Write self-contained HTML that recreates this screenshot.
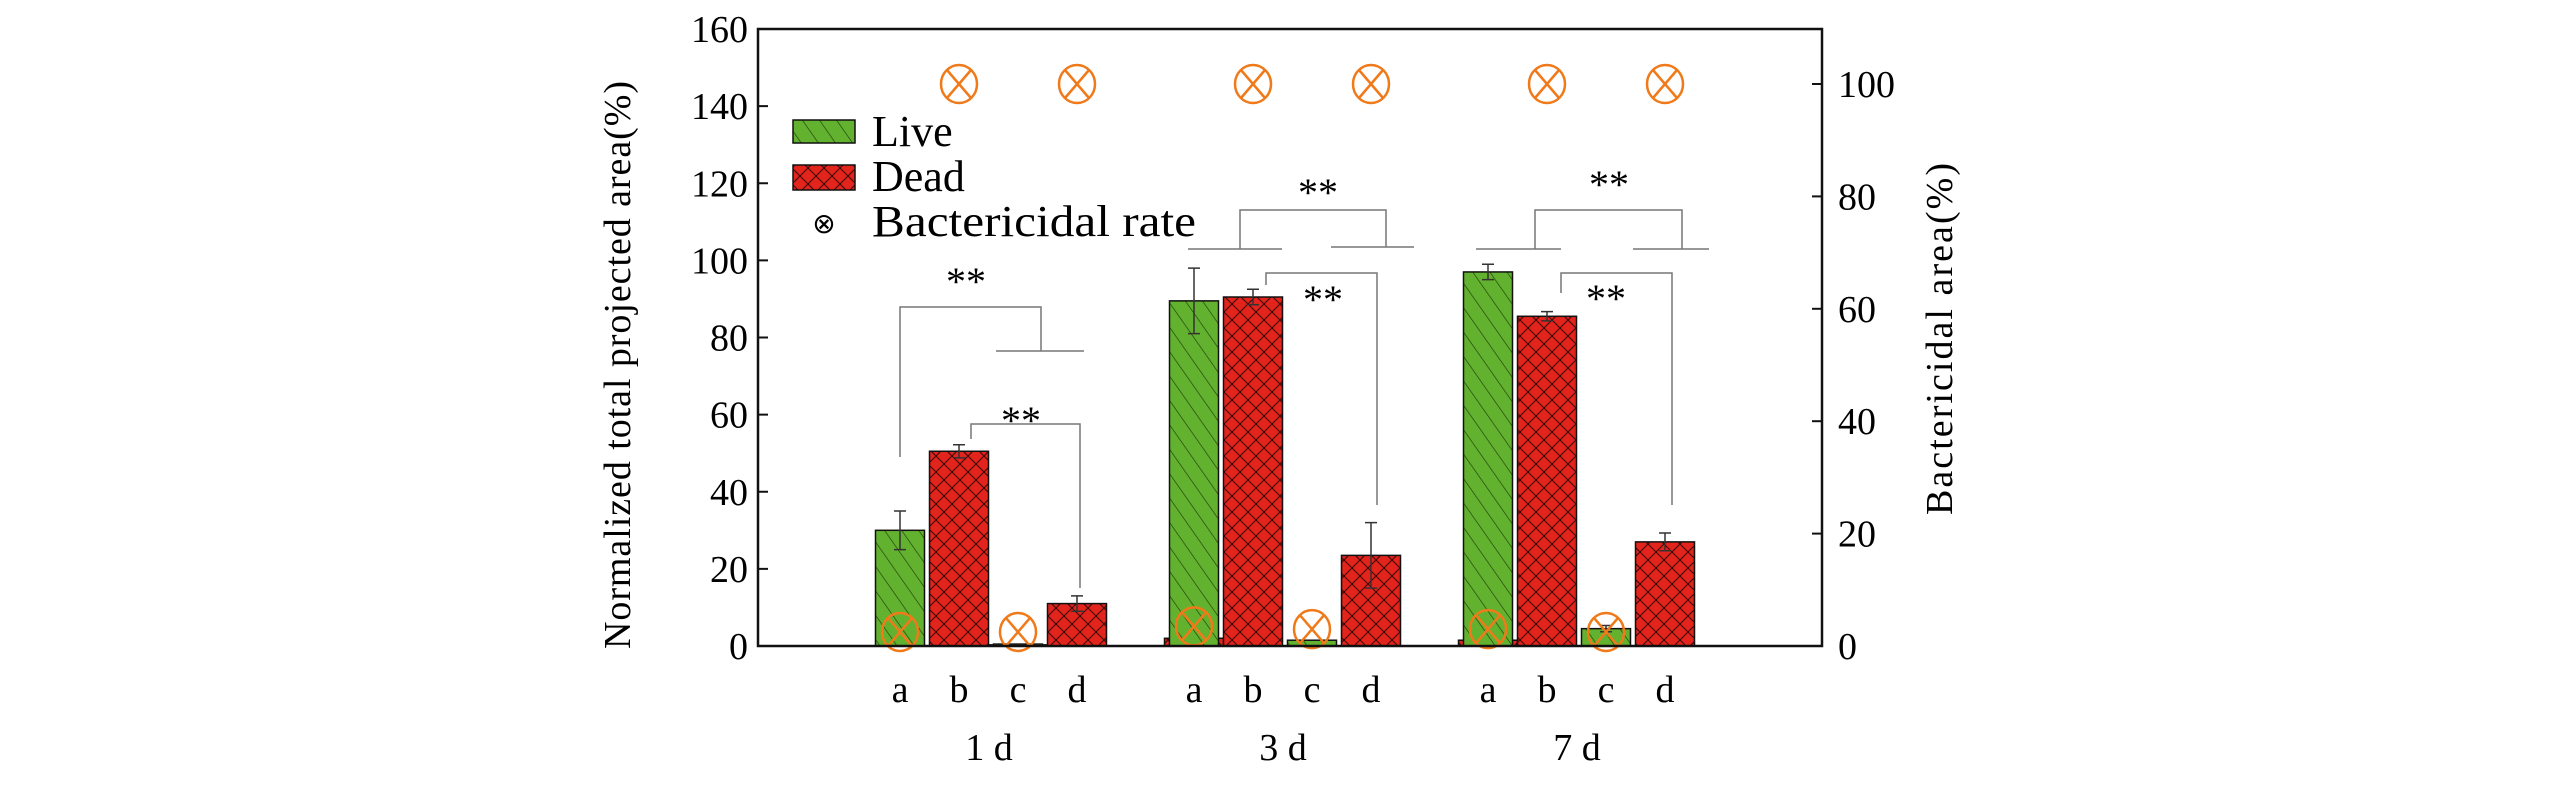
<!DOCTYPE html>
<html><head><meta charset="utf-8"><style>
html,body{margin:0;padding:0;background:#fff;}
svg{display:block;font-family:"Liberation Serif",serif;}
</style></head><body>
<svg id="chart" width="2567" height="787">
<defs>
<pattern id="hatchG" patternUnits="userSpaceOnUse" width="14" height="14" patternTransform="rotate(-35)">
<rect width="14" height="14" fill="#63b22f"/><line x1="0" y1="0" x2="0" y2="14" stroke="#1d3d0a" stroke-width="1.3"/></pattern>
<pattern id="hatchR" patternUnits="userSpaceOnUse" width="16" height="16">
<rect width="16" height="16" fill="#e3241c"/><path d="M0 0L16 16M16 0L0 16" stroke="#3a0505" stroke-width="1.1"/></pattern>
</defs>
<g id="plot"></g>
</svg>
<script>
const groups=["1 d","3 d","7 d"];
const subCats=["a","b","c","d"];
const liveVals=[[30,0,0.5,0],[89.5,0,1.5,0],[97,0,4.5,0]];
const liveErr=[[5,0,0,0],[8.5,0,0,0],[2,0,0.8,0]];
const deadVals=[[0,50.5,0.3,11],[2,90.5,0,23.5],[1.5,85.5,0,27]];
const deadErr=[[0,1.7,0,2],[0,2,0,8.5],[0,1.2,0,2.3]];
const rateVals=[[2.5,100,2.5,100],[3.5,100,3,100],[3,100,2.5,100]];
const leftTicks=[0,20,40,60,80,100,120,140,160];
const rightTicks=[0,20,40,60,80,100];

const L=758,R=1822,T=29,B=646;
const yL=v=>B-v/160*(B-T);
const yR=v=>B-v/100*562;
const slotX=(g,i)=>900+g*294+i*59;
const NS="http://www.w3.org/2000/svg";
const P=document.getElementById('plot');
function mk(tag,attrs,parent){const e=document.createElementNS(NS,tag);for(const k in attrs)e.setAttribute(k,attrs[k]);(parent||P).appendChild(e);return e;}
function txt(s,attrs){const e=mk('text',attrs);e.textContent=s;return e;}

groups.forEach((g,gi)=>{subCats.forEach((c,ci)=>{
  const cx=slotX(gi,ci);
  const dv=deadVals[gi][ci];
  if(dv>0){const w=59;const r=mk('rect',{x:cx-w/2,y:yL(dv),width:w,height:B-yL(dv),fill:'url(#hatchR)',stroke:'#111','stroke-width':1.5});
    
    }
  const lv=liveVals[gi][ci];
  if(lv>0){const w=49;const r=mk('rect',{x:cx-w/2,y:yL(lv),width:w,height:B-yL(lv),fill:'url(#hatchG)',stroke:'#111','stroke-width':1.5});
    
    }
  [[lv,liveErr[gi][ci]],[dv,deadErr[gi][ci]]].forEach(([v,e])=>{
    if(e>0){const eb=mk('path',{d:`M${cx} ${yL(v+e)}V${yL(v-e)}M${cx-6} ${yL(v+e)}H${cx+6}M${cx-6} ${yL(v-e)}H${cx+6}`,stroke:'#333','stroke-width':1.5,fill:'none'});
      
      }
  });
  const rv=rateVals[gi][ci];const my=yR(rv);
  const m=mk('g',{});
  
  
  mk('ellipse',{cx:cx,cy:my,rx:18,ry:19,fill:'none',stroke:'#f07a1a','stroke-width':2.5},m);
  mk('path',{d:`M${cx-12} ${my-14}L${cx+12} ${my+14}M${cx+12} ${my-14}L${cx-12} ${my+14}`,stroke:'#f07a1a','stroke-width':2.5},m);
  const t=txt(c,{x:cx,y:702,'font-size':38,'text-anchor':'middle'});
  
  
});
  const gt=txt(g,{x:slotX(gi,1)+30,y:760,'font-size':38,'text-anchor':'middle'});
  
  
});

const ax=mk('rect',{x:L,y:T,width:R-L,height:B-T,fill:'none',stroke:'#111','stroke-width':2.5});


leftTicks.forEach(v=>{mk('line',{x1:L,x2:L+10,y1:yL(v),y2:yL(v),stroke:'#111','stroke-width':2});
  const t=txt(v,{x:L-10,y:yL(v)+13,'font-size':38,'text-anchor':'end'});
  
  });
rightTicks.forEach(v=>{mk('line',{x1:R-10,x2:R,y1:yR(v),y2:yR(v),stroke:'#111','stroke-width':2});
  const t=txt(v,{x:R+16,y:yR(v)+13,'font-size':38,'text-anchor':'start'});
  
  });
</script>
<svg width="2567" height="787" style="position:absolute;left:0;top:0">
<g font-family="Liberation Serif, serif">
<text transform="translate(630,365) rotate(-90)" font-size="38" text-anchor="middle" textLength="568" lengthAdjust="spacing">Normalized total  projected area(%)</text>
<text transform="translate(1952,339) rotate(-90)" font-size="38" text-anchor="middle" textLength="352" lengthAdjust="spacing">Bactericidal area(%)</text>
<g>
<rect x="793" y="120" width="62" height="23" fill="url(#hatchG)" stroke="#111" stroke-width="1.5"/>
<text x="872" y="146" font-size="44">Live</text>
<rect x="793" y="165" width="62" height="25" fill="url(#hatchR)" stroke="#111" stroke-width="1.5"/>
<text x="872" y="191" font-size="44">Dead</text>
<text x="824" y="233" font-size="28" text-anchor="middle">⊗</text>
<text x="872" y="236" font-size="44" textLength="324" lengthAdjust="spacingAndGlyphs">Bactericidal rate</text>
</g>
<g fill="none" stroke="#777" stroke-width="1.5">
<path d="M900 457V307H1041V351M996 351H1084"/>
<path d="M971 439V424H1080V588"/>
<path d="M1188 249H1282M1331 247H1414M1240 249V210H1386V247"/>
<path d="M1266 285V273H1377V505"/>
<path d="M1476 249H1561M1633 249H1709M1535 249V210H1682V249"/>
<path d="M1561 293V273H1672V505"/>
</g>
<g font-size="40" text-anchor="middle">
<text x="966" y="295">**</text><text x="1021" y="434">**</text>
<text x="1318" y="206">**</text><text x="1323" y="313">**</text>
<text x="1609" y="198">**</text><text x="1606" y="312">**</text>
</g>
</g>
</svg>
</body></html>
